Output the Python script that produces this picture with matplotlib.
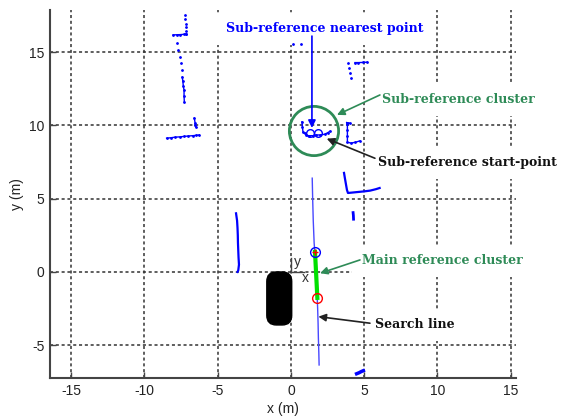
import matplotlib
matplotlib.use('Agg')
import matplotlib.pyplot as plt
from matplotlib.patches import FancyBboxPatch, Circle

plt.rcParams['axes.unicode_minus'] = False

# ---- lidar scan clusters (m) ----
wall_a_x = [-7.25, -7.22, -7.2, -7.2, -7.18, -7.2]
wall_a_y = [17.55, 17.25, 16.95, 16.7, 16.45, 16.25]
wall_a2_x = [-8.05, -7.8, -7.55, -7.3, -7.17]
wall_a2_y = [16.18, 16.19, 16.2, 16.22, 16.25]
dots_b_x = [-7.8, -7.7, -7.58, -7.5, -7.42]
dots_b_y = [15.6, 15.15, 14.7, 14.25, 13.8]
wall_b_x = [-7.42, -7.38, -7.35, -7.3, -7.3, -7.28]
wall_b_y = [13.3, 13.0, 12.7, 12.4, 12.0, 11.6]
wall_c_x = [-8.49, -8.2, -7.9, -7.6, -7.3, -7.0, -6.7, -6.45, -6.26]
wall_c_y = [9.13, 9.16, 9.2, 9.22, 9.25, 9.28, 9.3, 9.33, 9.35]
blob_c_x = [-6.6, -6.55, -6.55, -6.5]
blob_c_y = [10.5, 10.2, 10.0, 9.9]
dots_d_x = [0.11, 0.66]
dots_d_y = [15.56, 15.56]
wall_e_x = [3.91, 3.95, 4.0, 4.07]
wall_e_y = [14.25, 13.9, 13.55, 13.22]
wall_e2_x = [4.37, 4.6, 4.9, 5.21]
wall_e2_y = [14.29, 14.29, 14.3, 14.32]
sub_x = [0.75, 0.78, 0.82, 0.95, 1.05, 1.2, 1.5, 1.7, 2.0, 2.3, 2.5, 2.66]
sub_y = [10.25, 9.9, 9.55, 9.45, 9.35, 9.3, 9.3, 9.35, 9.35, 9.4, 9.5, 9.6]
sub_pts_x = [1.3, 1.87]
sub_pts_y = [9.47, 9.47]
wall_g_x = [3.8, 4.0, 3.85, 3.85, 3.85, 3.85, 4.1, 4.4, 4.71]
wall_g_y = [10.2, 10.15, 10.1, 9.7, 9.3, 8.85, 8.8, 8.85, 8.95]
wall_h_x = [3.62, 3.68, 3.75, 3.82, 3.89, 4.2, 4.6, 5.0, 5.4, 5.8, 6.05]
wall_h_y = [6.76, 6.4, 6.0, 5.6, 5.39, 5.42, 5.46, 5.5, 5.55, 5.65, 5.73]
blob_i_x = [4.24, 4.26, 4.27]
blob_i_y = [4.05, 3.85, 3.6]
blob_j_x = [4.48, 4.65, 4.8, 4.94]
blob_j_y = [-6.95, -6.88, -6.8, -6.74]
wall_k_x = [-3.75, -3.68, -3.65, -3.63, -3.62, -3.6, -3.58, -3.55, -3.6, -3.65]
wall_k_y = [4.0, 3.5, 3.0, 2.5, 2.0, 1.5, 1.0, 0.5, 0.1, 0.0]

search_x = [1.45, 1.48, 1.52, 1.58, 1.65, 1.72, 1.78, 1.82, 1.85, 1.87, 1.9, 1.92]
search_y = [6.4, 5.0, 3.5, 2.0, 1.0, 0.0, -1.5, -2.5, -3.5, -4.5, -5.5, -6.35]
main_x = [1.64, 1.8]
main_y = [1.37, -1.77]

car_xy = (-1.65, -3.62)
car_w, car_h = 1.7, 3.62
cluster_c = (1.57, 9.62)
cluster_r = 1.68

xticks = [-15, -10, -5, 0, 5, 10, 15]
yticks = [-5, 0, 5, 10, 15]

blue = '#0000ff'
green = '#2e8b57'
serif = 'DejaVu Serif'

fig = plt.figure(figsize=(5.65, 4.19), dpi=100)
ax = fig.add_axes([50/565, 1-378/419, 466/565, 368/419])
ax.set_xlim(-16.45, 15.36)
ax.set_ylim(-7.24, 17.88)
ax.set_xticks(xticks)
ax.set_yticks(yticks)
ax.set_axisbelow(True)
ax.grid(True, color='#333333', linestyle=(0, (2, 1.8)), linewidth=1.1)
for s in ['top', 'right']:
    ax.spines[s].set_visible(False)
for s in ['left', 'bottom']:
    ax.spines[s].set_color('#444444')
    ax.spines[s].set_linewidth(1.5)
ax.tick_params(direction='in', length=4, width=1, color='#444444',
               labelsize=10, labelcolor='#222222', pad=4)
for lab in ax.get_xticklabels() + ax.get_yticklabels():
    lab.set_family('Liberation Sans')
ax.set_xlabel('x (m)', fontsize=10, family='Liberation Sans', color='#222222', labelpad=3)
ax.set_ylabel('y (m)', fontsize=10, family='Liberation Sans', color='#222222', labelpad=4)

# scan points
solid = dict(color=blue, lw=1, marker='.', ms=2, zorder=3)
dotted = dict(color=blue, ls='none', marker='.', ms=2, zorder=3)
ax.plot(wall_a_x, wall_a_y, **dotted)
ax.plot(wall_a2_x, wall_a2_y, **solid)
ax.plot(dots_b_x, dots_b_y, **dotted)
ax.plot(wall_b_x, wall_b_y, **solid)
ax.plot(wall_c_x, wall_c_y, **solid)
ax.plot(blob_c_x, blob_c_y, **solid)
ax.plot(dots_d_x, dots_d_y, **dotted)
ax.plot(wall_e_x, wall_e_y, **dotted)
ax.plot(wall_e2_x, wall_e2_y, **solid)
ax.plot(sub_x, sub_y, **solid)
ax.plot(sub_pts_x, sub_pts_y, 'o', mfc='none', mec=blue, ms=5.5, mew=1, zorder=3)
ax.plot(wall_g_x, wall_g_y, **solid)
ax.plot(wall_h_x, wall_h_y, color=blue, lw=1.6, zorder=3)
ax.plot(blob_i_x, blob_i_y, color=blue, lw=2, zorder=3)
ax.plot(blob_j_x, blob_j_y, color=blue, lw=2.5, zorder=3)
ax.plot(wall_k_x, wall_k_y, color=blue, lw=1.6, zorder=3)

# search line and main reference cluster
ax.plot(search_x, search_y, color='#4848ff', lw=1, zorder=3)
ax.plot(main_x, main_y, color='#00e000', lw=3, zorder=4)
ax.plot(main_x[0], main_y[0], 'o', mfc='none', mec=blue, ms=7, mew=1, zorder=5)
ax.plot(main_x[0], main_y[0], '+', color='red', ms=4, mew=1, zorder=5)
ax.plot(main_x[1], main_y[1], 'o', mfc='none', mec='red', ms=7, mew=1, zorder=5)

# vehicle + local frame
car = FancyBboxPatch(car_xy, car_w, car_h, boxstyle='round,pad=0,rounding_size=0.65',
                     fc='black', ec='black', zorder=3)
ax.add_patch(car)
ax.plot([0, 0], [0, 0.95], color='#444444', lw=1, zorder=4)
ax.plot([0, 0.9], [0, 0], color='#444444', lw=1, zorder=4)
ax.text(0.45, 0.7, 'y', fontsize=10, family='Liberation Sans', color='#333333',
        ha='center', va='center', zorder=4)
ax.text(0.95, -0.38, 'x', fontsize=10, family='Liberation Sans', color='#333333',
        ha='center', va='center', zorder=4)

# sub-reference cluster circle
ax.add_patch(Circle(cluster_c, cluster_r, fill=False, ec=green, lw=2, zorder=4))

# labels with white boxes
box = dict(facecolor='white', edgecolor='none', pad=7)
tkw = dict(fontsize=9, family=serif, weight='bold', va='center', bbox=box, zorder=2.5)
ax.text(2.32, 16.59, 'Sub-reference nearest point', color=blue, ha='center', **tkw)
ax.text(6.21, 11.74, 'Sub-reference cluster', color=green, ha='left', **tkw)
ax.text(5.94, 7.44, 'Sub-reference start-point', color='#111111', ha='left', **tkw)
ax.text(4.85, 0.75, 'Main reference cluster', color=green, ha='left', **tkw)
ax.text(5.73, -3.62, 'Search line', color='#111111', ha='left', **tkw)

# arrows
def arrow(x0, y0, x1, y1, c):
    ax.annotate('', xy=(x1, y1), xytext=(x0, y0), zorder=6,
                arrowprops=dict(arrowstyle='-|>', color=c, lw=1.2, mutation_scale=11,
                                shrinkA=0, shrinkB=0))

arrow(1.43, 16.1, 1.43, 9.83, blue)
arrow(6.07, 12.08, 3.14, 10.72, green)
arrow(5.73, 7.76, 2.44, 9.1, '#222222')
arrow(4.71, 0.82, 1.98, -0.09, green)
arrow(5.39, -3.5, 1.87, -3.05, '#222222')

fig.savefig('out.png', dpi=100)
